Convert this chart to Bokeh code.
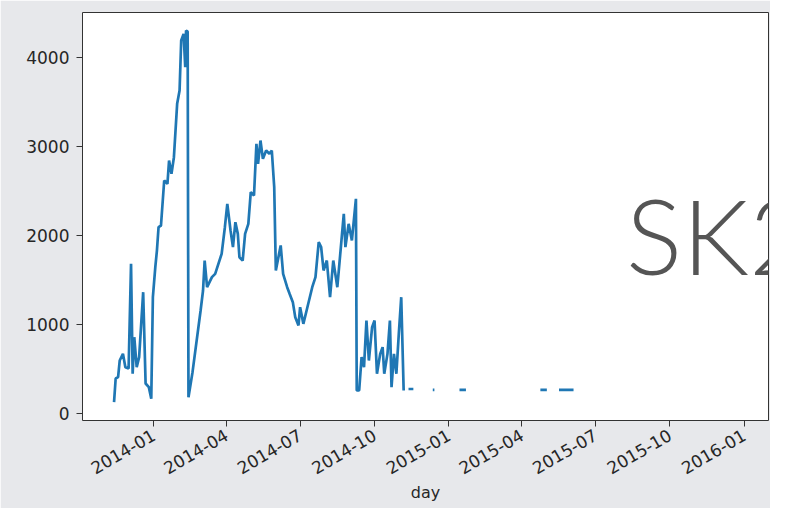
import math
from datetime import datetime
import numpy as np
import pandas as pd
from bokeh.plotting import figure
from bokeh.models import Range1d, FixedTicker, DatetimeTickFormatter, Label, ColumnDataSource
from bokeh.embed import file_html
from bokeh.resources import INLINE

# ---- data ----
days = [
    "2013-11-13", "2013-11-15", "2013-11-18", "2013-11-20", "2013-11-24", "2013-11-27",
    "2013-12-01", "2013-12-04", "2013-12-06", "2013-12-08", "2013-12-11", "2013-12-14",
    "2013-12-19", "2013-12-22", "2013-12-26", "2013-12-29", "2013-12-31", "2014-01-03",
    "2014-01-05", "2014-01-07", "2014-01-10", "2014-01-14", "2014-01-18", "2014-01-20",
    "2014-01-23", "2014-01-26", "2014-01-30", "2014-02-02", "2014-02-04", "2014-02-07",
    "2014-02-09", "2014-02-10", "2014-02-12", "2014-02-13", "2014-02-18", "2014-02-28",
    "2014-03-03", "2014-03-05", "2014-03-08", "2014-03-14", "2014-03-18", "2014-03-26",
    "2014-03-30", "2014-04-02", "2014-04-06", "2014-04-09", "2014-04-12", "2014-04-15",
    "2014-04-17", "2014-04-21", "2014-04-24", "2014-04-28", "2014-05-01", "2014-05-05",
    "2014-05-08", "2014-05-10", "2014-05-13", "2014-05-16", "2014-05-20", "2014-05-24",
    "2014-05-27", "2014-05-30", "2014-06-01", "2014-06-05", "2014-06-07", "2014-06-10",
    "2014-06-15", "2014-06-18", "2014-06-22", "2014-06-25", "2014-06-29", "2014-07-01",
    "2014-07-05", "2014-07-10", "2014-07-16", "2014-07-20", "2014-07-24", "2014-07-27",
    "2014-07-30", "2014-08-03", "2014-08-07", "2014-08-11", "2014-08-16", "2014-08-20",
    "2014-08-24", "2014-08-26", "2014-08-30", "2014-09-03", "2014-09-08", "2014-09-09",
    "2014-09-12", "2014-09-15", "2014-09-18", "2014-09-21", "2014-09-24", "2014-09-28",
    "2014-10-01", "2014-10-04", "2014-10-08", "2014-10-11", "2014-10-13", "2014-10-17",
    "2014-10-20", "2014-10-22", "2014-10-25", "2014-10-28", "2014-10-31", "2014-11-03",
    "2014-11-06", "2014-11-09",
    "2014-11-12", "2014-11-18", "2014-11-30",
    "2014-12-12", "2014-12-14", "2014-12-30",
    "2015-01-14", "2015-01-22", "2015-03-01",
    "2015-04-24", "2015-05-02", "2015-05-10",
    "2015-05-17", "2015-06-04",
]
counts = [
    127, 393, 408, 595, 670, 520,
    505, 1682, 446, 857, 520, 633,
    1363, 337, 296, 165, 1307, 1644,
    1831, 2093, 2112, 2618, 2581, 2843,
    2693, 2880, 3480, 3629, 4191, 4266,
    3891, 4303, 4290, 183, 464, 1157,
    1382, 1719, 1419, 1532, 1569, 1794,
    2093, 2355, 2056, 1869, 2149, 2018,
    1756, 1719, 2018, 2131, 2487, 2449,
    3030, 2805, 3067, 2861, 2955, 2918,
    2955, 2543, 1607, 1794, 1888, 1569,
    1419, 1345, 1251, 1082, 989, 1194,
    1007, 1194, 1419, 1532, 1925, 1869,
    1607, 1719, 1307, 1719, 1419, 1831,
    2243, 1869, 2131, 1944, 2412, 258,
    258, 633, 520, 1045, 595, 970,
    1045, 446, 670, 745, 446, 670,
    1045, 296, 670, 446, 895, 1307,
    258, float("nan"),
    275, 275, float("nan"),
    265, 265, float("nan"),
    265, 265, float("nan"),
    265, 265, float("nan"),
    265, 265,
]
tick_labels = ["2014-01", "2014-04", "2014-07", "2014-10", "2015-01",
               "2015-04", "2015-07", "2015-10", "2016-01"]
y_ticks = [0, 1000, 2000, 3000, 4000]
x_label = "day"
title_text = "SK2"

x = pd.to_datetime(days)
src = ColumnDataSource(dict(day=x, n=counts))

p = figure(width=770, height=508, x_axis_type="datetime",
           output_backend="svg", toolbar_location=None,
           x_range=Range1d(start=datetime(2013, 10, 5), end=datetime(2016, 1, 31)),
           y_range=Range1d(-79, 4506),
           min_border_left=82, min_border_right=2, min_border_top=12, min_border_bottom=88,
           background_fill_color="white", border_fill_color="#e7e8eb",
           outline_line_color="#333333", outline_line_width=1)

p.line("day", "n", source=src, line_color="#1f77b4", line_width=2.7)

p.xgrid.visible = False
p.ygrid.visible = False

tick_ms = [pd.Timestamp(t + "-01").value // 10**6 for t in tick_labels]
p.xaxis.ticker = FixedTicker(ticks=tick_ms)
fmt = "%Y-%m"
p.xaxis.formatter = DatetimeTickFormatter(milliseconds=fmt, seconds=fmt, minsec=fmt, minutes=fmt,
                                          hourmin=fmt, hours=fmt, days=fmt, months=fmt, years=fmt)
p.xaxis.major_label_orientation = math.pi / 6
p.yaxis.ticker = FixedTicker(ticks=y_ticks)

for ax in (p.xaxis[0], p.yaxis[0]):
    ax.axis_line_color = None
    ax.major_tick_out = 6
    ax.major_tick_in = 0
    ax.minor_tick_out = 0
    ax.minor_tick_in = 0
    ax.major_tick_line_color = "#333333"
    ax.major_label_text_font = "DejaVu Sans"
    ax.major_label_text_font_size = "17px"
    ax.major_label_text_color = "#262626"
    ax.major_label_standoff = 7

p.xaxis.axis_label = x_label
p.xaxis.axis_label_text_font = "DejaVu Sans"
p.xaxis.axis_label_text_font_size = "16px"
p.xaxis.axis_label_text_font_style = "normal"
p.xaxis.axis_label_text_color = "#262626"
p.xaxis.axis_label_standoff = 0

p.add_layout(Label(x=pd.Timestamp("2015-08-08"), y=2022, text=title_text,
                   text_font="Lato Light, Lato", text_font_size="105px",
                   text_color="#555555", text_align="left", text_baseline="alphabetic"))

open("out.html", "w").write(file_html(p, INLINE))
